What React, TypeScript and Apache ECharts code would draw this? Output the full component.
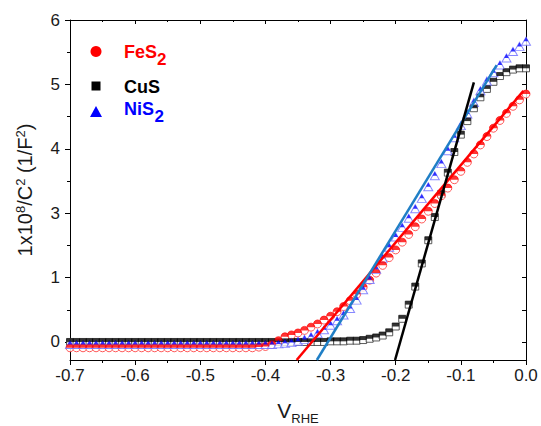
import React, { useEffect, useRef } from "react";
import * as echarts from "echarts";

// Potential vs RHE (V)
const voltage = [
  -0.70, -0.69, -0.68, -0.67, -0.66, -0.65, -0.64, -0.63, -0.62, -0.61,
  -0.60, -0.59, -0.58, -0.57, -0.56, -0.55, -0.54, -0.53, -0.52, -0.51,
  -0.50, -0.49, -0.48, -0.47, -0.46, -0.45, -0.44, -0.43, -0.42, -0.41,
  -0.40, -0.39, -0.38, -0.37, -0.36, -0.35, -0.34, -0.33, -0.32, -0.31,
  -0.30, -0.29, -0.28, -0.27, -0.26, -0.25, -0.24, -0.23, -0.22, -0.21,
  -0.20, -0.19, -0.18, -0.17, -0.16, -0.15, -0.14, -0.13, -0.12, -0.11,
  -0.10, -0.09, -0.08, -0.07, -0.06, -0.05, -0.04, -0.03, -0.02, -0.01,
  0.00,
];

// Values in axis-position units (tick positions 0..5 carry labels 0,1,3,4,5,6)
const fes2 = [
  -0.09, -0.09, -0.09, -0.09, -0.09, -0.09, -0.09, -0.09, -0.09, -0.09,
  -0.09, -0.09, -0.09, -0.09, -0.09, -0.09, -0.09, -0.09, -0.09, -0.09,
  -0.09, -0.09, -0.09, -0.09, -0.09, -0.09, -0.09, -0.09, -0.09, -0.08,
  -0.07, -0.04, 0.02, 0.08, 0.11, 0.14, 0.18, 0.23, 0.28, 0.34,
  0.40, 0.47, 0.55, 0.64, 0.74, 0.85, 0.96, 1.07, 1.19, 1.31,
  1.43, 1.55, 1.67, 1.79, 1.91, 2.03, 2.15, 2.27, 2.39, 2.52,
  2.65, 2.79, 2.92, 3.06, 3.19, 3.32, 3.44, 3.55, 3.66, 3.76,
  3.85,
];

const cus = [
  0.00, 0.00, 0.00, 0.00, 0.00, 0.00, 0.00, 0.00, 0.00, 0.00,
  0.00, 0.00, 0.00, 0.00, 0.00, 0.00, 0.00, 0.00, 0.00, 0.00,
  0.00, 0.00, 0.00, 0.00, 0.00, 0.00, 0.00, 0.00, 0.00, 0.00,
  0.00, 0.00, 0.00, 0.00, 0.00, 0.00, 0.00, 0.00, 0.00, 0.00,
  0.01, 0.01, 0.01, 0.02, 0.02, 0.03, 0.05, 0.07, 0.10, 0.15,
  0.24, 0.36, 0.58, 0.86, 1.22, 1.58, 1.94, 2.30, 2.63, 2.95,
  3.22, 3.43, 3.63, 3.80, 3.93, 4.04, 4.13, 4.19, 4.23, 4.25,
  4.25,
];

const nis2 = [
  -0.04, -0.04, -0.04, -0.04, -0.04, -0.04, -0.04, -0.04, -0.04, -0.04,
  -0.04, -0.04, -0.04, -0.04, -0.04, -0.04, -0.04, -0.04, -0.04, -0.04,
  -0.04, -0.04, -0.04, -0.04, -0.04, -0.04, -0.04, -0.04, -0.04, -0.04,
  -0.04, -0.04, -0.03, -0.02, -0.01, 0.01, 0.04, 0.08, 0.13, 0.19,
  0.26, 0.33, 0.42, 0.52, 0.65, 0.81, 0.97, 1.13, 1.30, 1.47,
  1.63, 1.78, 1.92, 2.07, 2.23, 2.41, 2.58, 2.77, 2.97, 3.17,
  3.36, 3.54, 3.72, 3.90, 4.05, 4.18, 4.30, 4.41, 4.51, 4.59,
  4.67,
];

// Linear (Mott-Schottky) fits: [V, value] end points
const fes2FitV = [-0.352, -0.004];
const fes2FitY = [-0.28, 3.9];
const cusFitV = [-0.201, -0.08];
const cusFitY = [-0.28, 4.03];
const nis2FitV = [-0.321, -0.045];
const nis2FitY = [-0.28, 4.3];

const yTickValues = [0, 1, 2, 3, 4, 5];
const yTickLabels = ["0", "1", "3", "4", "5", "6"];
const yMinorValues = [0.5, 1.5, 2.5, 3.5, 4.5];
const yAllValues = [0, 0.5, 1, 1.5, 2, 2.5, 3, 3.5, 4, 4.5, 5];

const FONT = "'Liberation Sans', Arial, sans-serif";
const X_MIN = -0.7;
const X_MAX = 0;
const Y_MIN = -0.28;
const Y_MAX = 5;

const pairs = (xs: number[], ys: number[]) => xs.map((x, i) => [x, ys[i]]);

function markerLayers(
  name: string,
  values: number[],
  fullSymbol: string,
  fullSize: number | number[],
  halfPath: string,
  halfSize: number[],
  color: string,
  light: string
) {
  const data = pairs(voltage, values);
  return [
    {
      name: name + "-open",
      type: "scatter",
      data,
      symbol: fullSymbol,
      symbolSize: fullSize,
      itemStyle: { color: "#ffffff", borderColor: light, borderWidth: 1 },
      z: 2,
      silent: true,
    },
    {
      name,
      type: "scatter",
      data,
      symbol: halfPath,
      symbolSize: halfSize,
      symbolOffset: [0, -halfSize[1] / 2],
      itemStyle: { color },
      z: 3,
      silent: true,
    },
  ];
}

function fitLine(name: string, xs: number[], ys: number[], color: string) {
  return {
    name,
    type: "line",
    data: pairs(xs, ys),
    showSymbol: false,
    symbol: "none",
    lineStyle: { color, width: 2.5 },
    z: 5,
    silent: true,
  };
}

export default function App() {
  const ref = useRef<HTMLDivElement>(null);

  useEffect(() => {
    if (!ref.current) return;
    const chart = echarts.init(ref.current, undefined, { renderer: "svg" });

    const black = "#000000";
    const labelColor = "#1a1a1a";

    const option: any = {
      animation: false,
      backgroundColor: "#ffffff",
      grid: { left: 70, right: 15, top: 20, bottom: 66, containLabel: false, outerBoundsMode: "none" },
      xAxis: [
        {
          type: "value",
          position: "bottom",
          min: X_MIN,
          max: X_MAX,
          interval: 0.1,
          axisLine: { show: true, onZero: false, lineStyle: { color: black, width: 1 } },
          axisTick: { show: true, length: 5, lineStyle: { color: black, width: 1 } },
          minorTick: { show: true, splitNumber: 2, length: 3, lineStyle: { color: black, width: 1 } },
          splitLine: { show: false },
          axisLabel: {
            fontSize: 17,
            fontFamily: FONT,
            color: labelColor,
            margin: 7,
            formatter: (v: number) => (Math.abs(v) < 1e-9 ? "0.0" : v.toFixed(1)),
          },
          name: "V{sub|RHE}",
          nameLocation: "middle",
          nameGap: 36,
          nameTextStyle: {
            fontSize: 21,
            fontFamily: FONT,
            color: labelColor,
            lineHeight: 22,
            verticalAlign: "top",
            rich: {
              sub: { fontSize: 13, fontFamily: FONT, color: labelColor, lineHeight: 29, verticalAlign: "bottom" },
            },
          },
        },
        {
          type: "value",
          position: "top",
          min: X_MIN,
          max: X_MAX,
          interval: 0.1,
          axisLine: { show: true, onZero: false, lineStyle: { color: black, width: 1 } },
          axisTick: { show: true, inside: true, length: 4, lineStyle: { color: black, width: 1 } },
          minorTick: { show: true, splitNumber: 2, length: 2, lineStyle: { color: black, width: 1 } },
          splitLine: { show: false },
          axisLabel: { show: false },
        },
      ],
      yAxis: [
        {
          type: "value",
          position: "left",
          min: Y_MIN,
          max: Y_MAX,
          axisLine: { show: true, onZero: false, lineStyle: { color: black, width: 1 } },
          axisTick: { show: true, length: 5, customValues: yTickValues, lineStyle: { color: black, width: 1 } },
          splitLine: { show: false },
          axisLabel: {
            customValues: yTickValues,
            fontSize: 17,
            fontFamily: FONT,
            color: labelColor,
            margin: 10,
            formatter: (v: number) => yTickLabels[Math.round(v)] ?? "",
          },
          name: "1x10{sup|8}/C{sup|2} (1/F{sup|2})",
          nameLocation: "middle",
          nameRotate: 90,
          nameGap: 34,
          nameTextStyle: {
            fontSize: 20,
            fontFamily: FONT,
            color: labelColor,
            lineHeight: 22,
            verticalAlign: "bottom",
            rich: {
              sup: { fontSize: 13, fontFamily: FONT, color: labelColor, lineHeight: 22, verticalAlign: "top" },
            },
          },
        },
        {
          type: "value",
          position: "left",
          min: Y_MIN,
          max: Y_MAX,
          axisLine: { show: false, onZero: false },
          axisTick: { show: true, length: 3, customValues: yMinorValues, lineStyle: { color: black, width: 1 } },
          splitLine: { show: false },
          axisLabel: { show: false },
        },
        {
          type: "value",
          position: "right",
          min: Y_MIN,
          max: Y_MAX,
          axisLine: { show: true, onZero: false, lineStyle: { color: black, width: 1 } },
          axisTick: { show: true, inside: true, length: 4, customValues: yAllValues, lineStyle: { color: black, width: 1 } },
          splitLine: { show: false },
          axisLabel: { show: false },
        },
      ],
      series: [
        ...markerLayers("CuS", cus, "rect", 7, "path://M0,0H10V5H0Z", [7, 3.5], "#000000", "#333333"),
        ...markerLayers("FeS2", fes2, "circle", 8, "path://M0,10A10,10,0,0,1,20,10Z", [8, 4], "#ff0000", "#ff3030"),
        ...markerLayers("NiS2", nis2, "triangle", [9, 8], "path://M5,0L10,10L0,10Z", [4.5, 4], "#0000ff", "#6a6aff"),
        fitLine("FeS2 fit", fes2FitV, fes2FitY, "#ff0000"),
        fitLine("NiS2 fit", nis2FitV, nis2FitY, "#1f7fc6"),
        fitLine("CuS fit", cusFitV, cusFitY, "#000000"),
      ],
      graphic: [
        { type: "circle", shape: { cx: 96, cy: 51.5, r: 5.5 }, style: { fill: "#ff0000" } },
        { type: "rect", shape: { x: 91.5, y: 81.5, width: 9, height: 9 }, style: { fill: "#000000" } },
        { type: "polygon", shape: { points: [[96, 106], [102, 117], [90, 117]] }, style: { fill: "#0000ff" } },
        {
          type: "text",
          x: 124,
          y: 52,
          style: { text: "FeS", fill: "#ff0000", font: `bold 18px ${FONT}`, verticalAlign: "middle", align: "left" },
        },
        {
          type: "text",
          x: 157,
          y: 59,
          style: { text: "2", fill: "#ff0000", font: `bold 17px ${FONT}`, verticalAlign: "middle", align: "left" },
        },
        {
          type: "text",
          x: 124,
          y: 87,
          style: { text: "CuS", fill: "#000000", font: `bold 18px ${FONT}`, verticalAlign: "middle", align: "left" },
        },
        {
          type: "text",
          x: 124,
          y: 109,
          style: { text: "NiS", fill: "#0000ff", font: `bold 18px ${FONT}`, verticalAlign: "middle", align: "left" },
        },
        {
          type: "text",
          x: 154.5,
          y: 116,
          style: { text: "2", fill: "#0000ff", font: `bold 17px ${FONT}`, verticalAlign: "middle", align: "left" },
        },
      ],
    };

    chart.setOption(option);
    return () => chart.dispose();
  }, []);

  return (
    <div
      ref={ref}
      style={{ position: "absolute", left: 0, top: 0, width: 541, height: 426, background: "#fff" }}
    />
  );
}
